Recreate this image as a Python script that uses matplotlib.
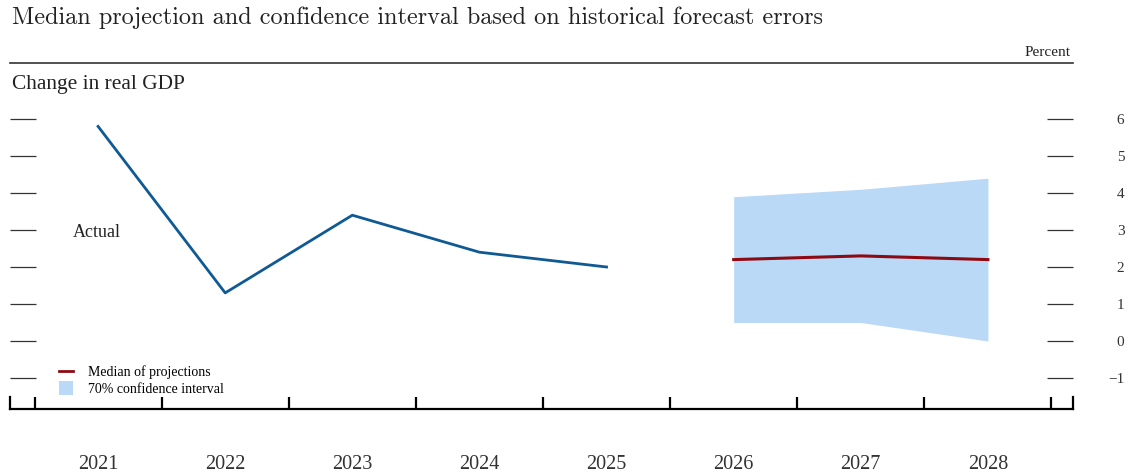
import numpy as np
import matplotlib
matplotlib.use("Agg")
import matplotlib.pyplot as plt
from matplotlib.lines import Line2D
from matplotlib.patches import Patch

# data
actual_years = [2021, 2022, 2023, 2024, 2025]
actual_gdp = [5.8, 1.3, 3.4, 2.4, 2.0]
proj_years = [2026, 2027, 2028]
median_proj = [2.2, 2.3, 2.2]
ci_low = [0.5, 0.5, 0.0]
ci_high = [3.9, 4.1, 4.4]
year_labels = [str(y) for y in range(2021, 2029)]
yticks = [-1, 0, 1, 2, 3, 4, 5, 6]

W, H = 1128, 476
serif = "Liberation Serif"
blue = "#0f5a94"
red = "#8e0a12"
band = "#b9d9f6"
txt = "#222222"

fig = plt.figure(figsize=(W / 100, H / 100), dpi=100)

# axes placed by pixel: left 10, right 1073, bottom 409, top 100
left, right, bottom, top = 10, 1073, 409, 100
ax = fig.add_axes([left / W, 1 - bottom / H, (right - left) / W, (bottom - top) / H])

px_per_unit = 37.0
y0 = -1 - (bottom - 378) / px_per_unit
y1 = 6 + (119 - top) / px_per_unit
ax.set_ylim(y0, y1)
x_per_px = 1 / 127.0
ax.set_xlim(2021 - (98 - left) * x_per_px, 2028 + (right - 988) * x_per_px)

ax.fill_between(proj_years, ci_low, ci_high, color=band, lw=0)
ax.plot(actual_years, actual_gdp, color=blue, lw=2)
ax.plot(proj_years, median_proj, color=red, lw=2.2)

ax.text(2021 - 25 * x_per_px, 2.93, "Actual", family=serif, fontsize=13,
        va="center", ha="left", color=txt)

# spines
ax.spines["top"].set_visible(False)
ax.spines["bottom"].set_linewidth(1.6)
for s in ["left", "right"]:
    ax.spines[s].set_linewidth(1.6)
    ax.spines[s].set_bounds(y0, y0 + 12 / px_per_unit)

# y ticks as inward dashes on both sides, labels on the right
ax.set_yticks(yticks)
ax.set_yticklabels([("\u2212%d" % -v) if v < 0 else str(v) for v in yticks])
ax.tick_params(axis="y", which="major", direction="in", length=19, width=0.9,
               left=True, right=True, labelleft=False, labelright=True,
               pad=37, labelsize=11, color="#333333", labelcolor="#333333")
for t in ax.yaxis.get_major_ticks():
    t.label2.set_horizontalalignment("right")
    t.label2.set_family(serif)

# x ticks at year boundaries, labels at year centres
ax.set_xticks(np.arange(2020.5, 2029, 1.0))
ax.set_xticklabels([])
ax.set_xticks(range(2021, 2029), minor=True)
ax.set_xticklabels(year_labels, minor=True, family=serif, fontsize=14.5, color="#333333")
ax.tick_params(axis="x", which="major", direction="in", length=9, width=1.6)
ax.tick_params(axis="x", which="minor", length=0, pad=33)

# legend
handles = [Line2D([], [], color=red, lw=2),
           Patch(facecolor=band, edgecolor="none")]
fig.legend(handles, ["Median of projections", "70% confidence interval"],
           loc="upper left", bbox_to_anchor=(52 / W, 1 - 358 / H),
           frameon=False, prop={"family": serif, "size": 10},
           handlelength=1.0, handleheight=1.1, handletextpad=1.1,
           labelspacing=0.15, borderpad=0)

# header texts and separator line
fig.text(12 / W, 1 - 18 / H, "Median projection and confidence interval based on historical forecast errors",
         family="cmr10", fontsize=17.5, va="center", ha="left", color=txt)
fig.text(1071 / W, 1 - 52 / H, "Percent", family=serif, fontsize=11,
         va="center", ha="right", color=txt)
fig.add_artist(Line2D([10 / W, 1073 / W], [1 - 63 / H, 1 - 63 / H],
                      color="#333333", lw=1.2, transform=fig.transFigure))
fig.text(12 / W, 1 - 84 / H, "Change in real GDP", family=serif, fontsize=15.4,
         va="center", ha="left", color=txt)

fig.savefig("out.png", dpi=100)
